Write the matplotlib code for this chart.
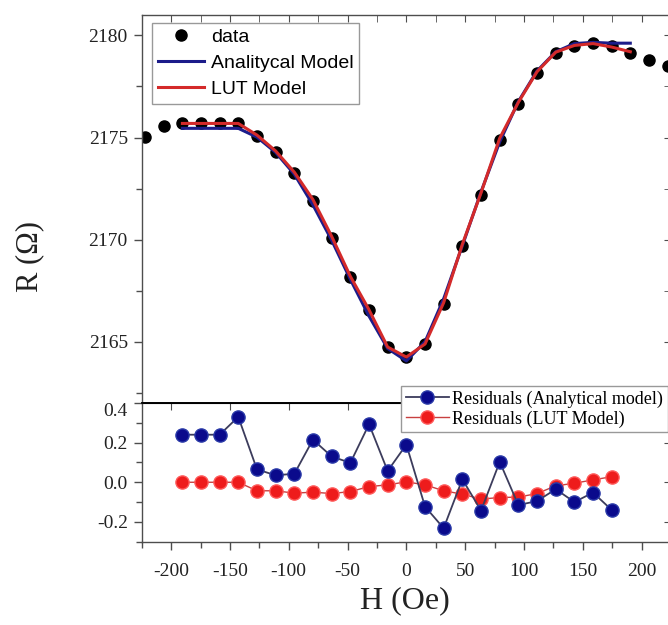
import matplotlib
matplotlib.use("Agg")
import matplotlib.pyplot as plt
from matplotlib.lines import Line2D
from matplotlib.ticker import MultipleLocator
from matplotlib.font_manager import FontProperties

plt.rcParams['axes.unicode_minus'] = False

# field values (Oe) of the measured points
h_data = [-222.2, -206.3, -190.4, -174.6, -158.7, -142.9, -127.0, -111.1, -95.2,
          -79.4, -63.5, -47.6, -31.7, -15.9, 0.0, 15.9, 31.7, 47.6, 63.5, 79.4,
          95.2, 111.1, 127.0, 142.9, 158.7, 174.6, 190.4, 206.3, 222.2]
r_data = [2175.05, 2175.57, 2175.69, 2175.69, 2175.69, 2175.69, 2175.08, 2174.30,
          2173.24, 2171.91, 2170.10, 2168.15, 2166.54, 2164.73, 2164.25, 2164.88,
          2166.87, 2169.71, 2172.20, 2174.89, 2176.64, 2178.16, 2179.16, 2179.50,
          2179.61, 2179.46, 2179.16, 2178.79, 2178.50]

# model curves
h_model = [-190.4, -174.6, -158.7, -142.9, -127.0, -111.1, -95.2, -79.4, -63.5,
           -47.6, -31.7, -15.9, 0.0, 15.9, 31.7, 47.6, 63.5, 79.4, 95.2, 111.1,
           127.0, 142.9, 158.7, 174.6, 190.4]
r_analytical = [2175.45, 2175.45, 2175.45, 2175.45, 2175.02, 2174.27, 2173.20,
                2171.70, 2169.97, 2168.05, 2166.25, 2164.67, 2164.06, 2165.00,
                2167.10, 2169.70, 2172.34, 2174.79, 2176.76, 2178.26, 2179.20,
                2179.60, 2179.66, 2179.62, 2179.62]
r_lut = [2175.69, 2175.69, 2175.69, 2175.69, 2175.12, 2174.34, 2173.30, 2171.96,
         2170.16, 2168.20, 2166.56, 2164.74, 2164.25, 2164.89, 2166.91, 2169.77,
         2172.29, 2174.97, 2176.72, 2178.22, 2179.18, 2179.51, 2179.60, 2179.43,
         2179.20]

# residuals
h_res = [-190.4, -174.6, -158.7, -142.9, -127.0, -111.1, -95.2, -79.4, -63.5,
         -47.6, -31.7, -15.9, 0.0, 15.9, 31.7, 47.6, 63.5, 79.4, 95.2, 111.1,
         127.0, 142.9, 158.7, 174.6]
res_analytical = [0.24, 0.24, 0.24, 0.33, 0.065, 0.035, 0.043, 0.215, 0.13, 0.098,
                  0.293, 0.057, 0.19, -0.123, -0.232, 0.015, -0.143, 0.103, -0.115,
                  -0.095, -0.035, -0.10, -0.052, -0.14]
res_lut = [0.0, 0.0, 0.0, 0.0, -0.043, -0.043, -0.055, -0.05, -0.057, -0.047,
           -0.022, -0.013, 0.002, -0.013, -0.043, -0.06, -0.085, -0.077, -0.075,
           -0.057, -0.018, -0.005, 0.012, 0.028]

serif = 'Liberation Serif'
sans = 'Liberation Sans'
spine_c = '#4d4d4d'
W, H = 668, 625

fig = plt.figure(figsize=(W / 100, H / 100), dpi=100)
left = 141.7 / W
right = 671 / W
ax1 = fig.add_axes([left, 1 - 403 / H, right - left, (403 - 15) / H])
ax2 = fig.add_axes([left, 1 - 541.7 / H, right - left, (541.7 - 403) / H])

# top panel
ax1.plot(h_data, r_data, 'o', color='black', ms=8, zorder=2)
ax1.plot(h_model, r_analytical, color='#1c1c8a', lw=2.2, zorder=3)
ax1.plot(h_model, r_lut, color='#d42a2a', lw=2.2, zorder=4)
ax1.set_xlim(-225, 225)
ax1.set_ylim(2162, 2181)
ax1.yaxis.set_major_locator(MultipleLocator(5))
ax1.yaxis.set_minor_locator(MultipleLocator(2.5))
ax1.xaxis.set_major_locator(MultipleLocator(50))
ax1.xaxis.set_minor_locator(MultipleLocator(25))
ax1.tick_params(axis='x', which='both', direction='in', bottom=False, top=True,
                labelbottom=False, length=5, color=spine_c)
ax1.tick_params(axis='y', which='major', direction='out', length=6, width=1,
                color=spine_c, pad=4, right=False)
ax1.tick_params(axis='y', which='minor', direction='out', length=4, width=1,
                color=spine_c, right=False)
for lab in ax1.get_yticklabels():
    lab.set_fontfamily(serif)
    lab.set_fontsize(14)
    lab.set_color('#222222')
sec = ax1.secondary_yaxis('right')
sec.yaxis.set_major_locator(MultipleLocator(5))
sec.yaxis.set_minor_locator(MultipleLocator(2.5))
sec.tick_params(which='both', direction='in', length=5, labelright=False, color=spine_c)
for s in ['left', 'top', 'right']:
    ax1.spines[s].set_color(spine_c)
    ax1.spines[s].set_linewidth(1.0)
ax1.spines['bottom'].set_color('black')
ax1.spines['bottom'].set_linewidth(1.2)

# bottom panel
ax2.plot(h_res, res_analytical, '-o', color='#3c3c5c', lw=1.3, ms=9.5,
         mfc='#0a0a8c', mec='#2a3aa8', zorder=3)
ax2.plot(h_res, res_lut, '-o', color='#c84040', lw=1.0, ms=9.5,
         mfc='#ee1c1c', mec='#ff5a5a', zorder=2)
ax2.set_xlim(-225, 225)
ax2.set_ylim(-0.3, 0.4)
ax2.set_yticks([-0.2, 0.0, 0.2, 0.4])
ax2.set_yticklabels(['-0.2', '0.0', '0.2', '0.4'])
ax2.yaxis.set_minor_locator(MultipleLocator(0.1))
ax2.xaxis.set_major_locator(MultipleLocator(50))
ax2.xaxis.set_minor_locator(MultipleLocator(25))
ax2.tick_params(axis='both', which='major', direction='out', length=6, width=1,
                color=spine_c, pad=4)
ax2.tick_params(axis='both', which='minor', direction='out', length=4, width=1,
                color=spine_c)
ax2.tick_params(axis='x', pad=9)
for lab in ax2.get_xticklabels() + ax2.get_yticklabels():
    lab.set_fontfamily(serif)
    lab.set_fontsize(14)
    lab.set_color('#222222')
ax2.get_yticklabels()[-1].set_verticalalignment('top')
secx = ax2.secondary_xaxis('top')
secx.xaxis.set_major_locator(MultipleLocator(50))
secx.tick_params(direction='in', length=5, labeltop=False, color=spine_c)
secy = ax2.secondary_yaxis('right')
secy.set_yticks([-0.2, 0.0, 0.2, 0.4])
secy.tick_params(direction='in', length=5, labelright=False, color=spine_c)
for s in ['left', 'bottom', 'right']:
    ax2.spines[s].set_color(spine_c)
    ax2.spines[s].set_linewidth(1.0)
ax2.spines['top'].set_color('black')
ax2.spines['top'].set_linewidth(1.2)

# axis titles
fig.text(30 / W, 1 - 257 / H, 'R (\u03a9)', rotation=90, ha='center', va='center',
         family=serif, fontsize=22, color='#222222')
fig.text(405 / W, 1 - 601 / H, 'H (Oe)', ha='center', va='center',
         family=serif, fontsize=23, color='#222222')

# legends
h1 = [Line2D([], [], ls='none', marker='o', color='black', ms=8),
      Line2D([], [], color='#1c1c8a', lw=2.2),
      Line2D([], [], color='#d42a2a', lw=2.2)]
leg1 = fig.legend(h1, ['data', 'Analitycal Model', 'LUT Model'], loc='upper left',
                  bbox_to_anchor=(151.7 / W, 1 - 22.7 / H), borderaxespad=0,
                  prop=FontProperties(family=sans, size=14), fancybox=False,
                  edgecolor='#999999', framealpha=1, borderpad=0.3,
                  handlelength=2.4, handletextpad=0.35, labelspacing=0.42)
leg1.get_frame().set_linewidth(1.0)

h2 = [Line2D([], [], color='#3c3c5c', lw=1.3, marker='o', ms=9.5,
             mfc='#0a0a8c', mec='#2a3aa8'),
      Line2D([], [], color='#c84040', lw=1.0, marker='o', ms=9.5,
             mfc='#ee1c1c', mec='#ff5a5a')]
leg2 = fig.legend(h2, ['Residuals (Analytical model)', 'Residuals (LUT Model)'],
                  loc='upper left', bbox_to_anchor=(401 / W, 1 - 386 / H),
                  borderaxespad=0, prop=FontProperties(family=serif, size=13),
                  fancybox=False, edgecolor='#999999', framealpha=1,
                  borderpad=0.25, handlelength=2.4, handletextpad=0.2,
                  labelspacing=0.15)
leg2.get_frame().set_linewidth(1.0)

fig.savefig('out.png', dpi=100)
plt.close()
